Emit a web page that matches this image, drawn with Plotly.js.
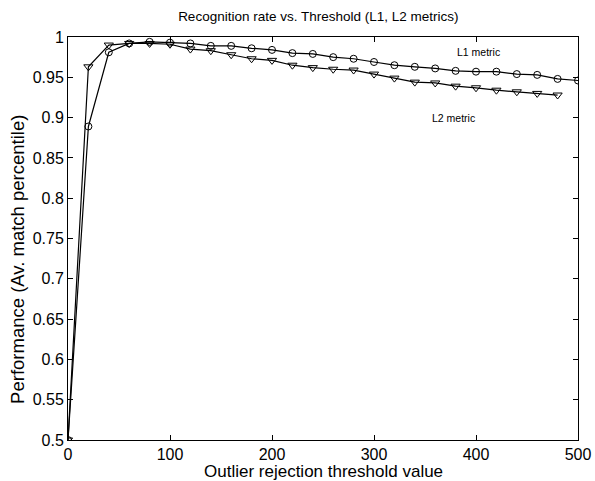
<!DOCTYPE html>
<html>
<head>
<meta charset="utf-8">
<script src="https://cdn.plot.ly/plotly-3.0.1.min.js"></script>
<style>html,body{margin:0;padding:0;background:#fff;}#chart{width:595px;height:481px;}</style>
</head>
<body>
<div id="chart"></div>
<script>
var thresholdsL1 = [0,20,40,60,80,100,120,140,160,180,200,220,240,260,280,300,320,340,360,380,400,420,440,460,480,500];
var perfL1 = [0.5,0.889,0.981,0.992,0.994,0.993,0.992,0.989,0.989,0.986,0.984,0.980,0.979,0.975,0.973,0.969,0.965,0.963,0.961,0.958,0.957,0.957,0.954,0.953,0.948,0.946];
var thresholdsL2 = [0,20,40,60,80,100,120,140,160,180,200,220,240,260,280,300,320,340,360,380,400,420,440,460,480];
var perfL2 = [0.5,0.963,0.990,0.992,0.992,0.991,0.985,0.983,0.978,0.973,0.971,0.965,0.962,0.960,0.959,0.954,0.949,0.944,0.943,0.939,0.937,0.934,0.932,0.930,0.928];
var yTicks = [0.5,0.55,0.6,0.65,0.7,0.75,0.8,0.85,0.9,0.95,1];
var yTickLabels = ["0.5","0.55","0.6","0.65","0.7","0.75","0.8","0.85","0.9","0.95","1"];
var xTicks = [0,100,200,300,400,500];
var xTickLabels = ["0","100","200","300","400","500"];

var font = "Liberation Sans, Arial, Helvetica, sans-serif";
var traces = [
  {x: thresholdsL1, y: perfL1, mode: "lines+markers", name: "L1 metric",
   line: {color: "#000", width: 1.2},
   marker: {symbol: "circle-open", size: 7, color: "#000", line: {width: 1, color: "#000"}}},
  {x: thresholdsL2, y: perfL2, mode: "lines+markers", name: "L2 metric",
   line: {color: "#000", width: 1.2},
   marker: {symbol: "triangle-down-open", size: 8, color: "#000", line: {width: 1, color: "#000"}}}
];
var axisCommon = {showgrid: false, zeroline: false, showline: true, mirror: "ticks",
  linecolor: "#000", linewidth: 1, ticks: "inside", ticklen: 5, tickcolor: "#000",
  tickfont: {family: font, size: 16, color: "#000"}};
var layout = {
  width: 595, height: 481,
  margin: {l: 68, r: 17, t: 37, b: 41},
  paper_bgcolor: "#fff", plot_bgcolor: "#fff",
  showlegend: false,
  title: {text: "Recognition rate vs. Threshold (L1, L2 metrics)", font: {family: font, size: 13.5, color: "#000"}, x: 0.535, xanchor: "center", y: 0.967, yanchor: "middle"},
  xaxis: Object.assign({}, axisCommon, {range: [0, 500], tickvals: xTicks, ticktext: xTickLabels}),
  yaxis: Object.assign({}, axisCommon, {range: [0.5, 1], tickvals: yTicks, ticktext: yTickLabels}),
  annotations: [
    {x: 0.5, y: -0.078, xref: "paper", yref: "paper", xanchor: "center", yanchor: "middle",
     text: "Outlier rejection threshold value", showarrow: false, font: {family: font, size: 17, color: "#000"}},
    {x: -0.098, y: 0.447, xref: "paper", yref: "paper", xanchor: "center", yanchor: "middle", textangle: -90,
     text: "Performance (Av. match percentile)", showarrow: false, font: {family: font, size: 18.5, color: "#000"}},
    {x: 402, y: 0.981, xref: "x", yref: "y", text: "L1 metric", showarrow: false, font: {family: font, size: 10.5, color: "#000"}},
    {x: 378, y: 0.9, xref: "x", yref: "y", text: "L2 metric", showarrow: false, font: {family: font, size: 10.5, color: "#000"}}
  ]
};
Plotly.newPlot("chart", traces, layout, {displayModeBar: false, staticPlot: true});
</script>
</body>
</html>
